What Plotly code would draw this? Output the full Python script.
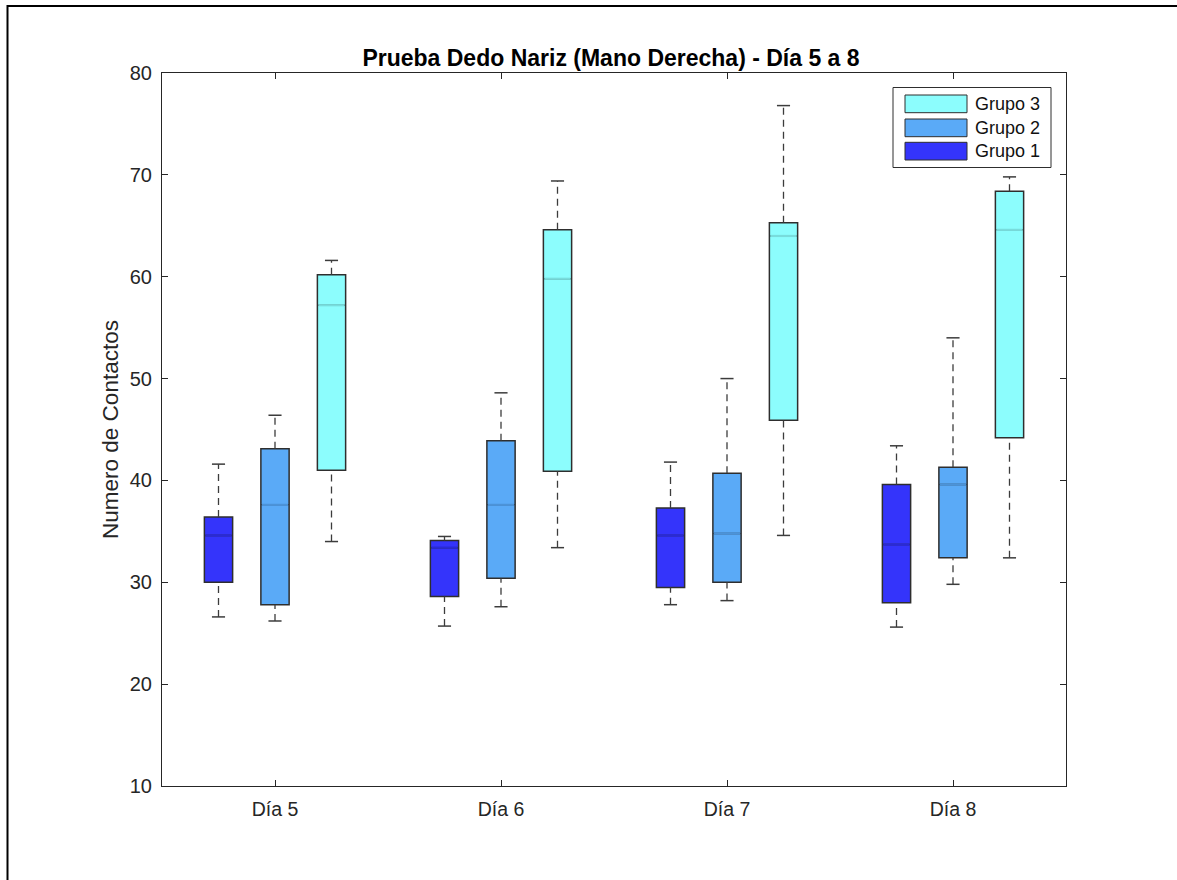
import plotly.graph_objects as go

days = ["Día 5", "Día 6", "Día 7", "Día 8"]
groups = ["Grupo 1", "Grupo 2", "Grupo 3"]

g1_lo = [26.6, 25.7, 27.8, 25.6]
g1_q1 = [30.0, 28.6, 29.5, 28.0]
g1_med = [34.6, 33.4, 34.6, 33.7]
g1_q3 = [36.4, 34.1, 37.3, 39.6]
g1_hi = [41.6, 34.5, 41.8, 43.4]

g2_lo = [26.2, 27.6, 28.2, 29.8]
g2_q1 = [27.8, 30.4, 30.0, 32.4]
g2_med = [37.6, 37.6, 34.8, 39.6]
g2_q3 = [43.1, 43.9, 40.7, 41.3]
g2_hi = [46.4, 48.6, 50.0, 54.0]

g3_lo = [34.0, 33.4, 34.6, 32.4]
g3_q1 = [41.0, 40.9, 45.9, 44.2]
g3_med = [57.2, 59.8, 64.0, 64.6]
g3_q3 = [60.2, 64.6, 65.3, 68.4]
g3_hi = [61.6, 69.4, 76.8, 69.8]

stats = [
    (g1_lo, g1_q1, g1_med, g1_q3, g1_hi),
    (g2_lo, g2_q1, g2_med, g2_q3, g2_hi),
    (g3_lo, g3_q1, g3_med, g3_q3, g3_hi),
]
fills = ["#3434fb", "#5aaaf7", "#8cfdfd"]
med_colors = ["#2a2ad4", "#4c93d8", "#78dcdc"]
offsets = [-0.25, 0.0, 0.25]
BOXW = 0.125
CAPW = 0.058
OUTLINE = "#2e2e2e"
FONT = "Liberation Sans, Arial, sans-serif"

fig = go.Figure()

for gi, (lo, q1, med, q3, hi) in enumerate(stats):
    xs = [i + 1 + offsets[gi] for i in range(len(days))]
    fig.add_trace(go.Box(
        x=xs, q1=q1, median=med, q3=q3, lowerfence=q1, upperfence=q3,
        width=BOXW, whiskerwidth=0, fillcolor=fills[gi],
        line=dict(color=OUTLINE, width=1.5), boxpoints=False,
        name=groups[gi], showlegend=False, hoverinfo="skip",
    ))
    # dashed whiskers
    wx, wy = [], []
    for x, a, b, c, d in zip(xs, lo, q1, q3, hi):
        wx += [x, x, None, x, x, None]
        wy += [a, b, None, c, d, None]
    fig.add_trace(go.Scatter(x=wx, y=wy, mode="lines", showlegend=False,
                             hoverinfo="skip",
                             line=dict(color="#3c3c3c", width=1.3, dash="7px,5px")))
    # caps
    cx, cy = [], []
    for x, a, d in zip(xs, lo, hi):
        cx += [x - CAPW / 2, x + CAPW / 2, None, x - CAPW / 2, x + CAPW / 2, None]
        cy += [a, a, None, d, d, None]
    fig.add_trace(go.Scatter(x=cx, y=cy, mode="lines", showlegend=False,
                             hoverinfo="skip",
                             line=dict(color="#3c3c3c", width=1.5)))
    # medians
    mx, my = [], []
    for x, m in zip(xs, med):
        mx += [x - BOXW / 2 + 0.004, x + BOXW / 2 - 0.004, None]
        my += [m, m, None]
    fig.add_trace(go.Scatter(x=mx, y=my, mode="lines", showlegend=False,
                             hoverinfo="skip",
                             line=dict(color=med_colors[gi], width=2.2)))

W, H = 1177, 880
L, R, T, B = 162, 111, 73, 94
pw, ph = W - L - R, H - T - B


def px(x):
    return (x - L) / pw


def py(y):
    return (H - B - y) / ph


shapes = []
# outer frame (top and left edges visible), kept inside the canvas
shapes.append(dict(type="line", xref="paper", yref="paper",
                   x0=px(7), x1=px(W), y0=py(6), y1=py(6),
                   line=dict(color="black", width=2)))
shapes.append(dict(type="line", xref="paper", yref="paper",
                   x0=px(7.5), x1=px(7.5), y0=py(5), y1=py(H),
                   line=dict(color="black", width=2)))
# legend box
shapes.append(dict(type="rect", xref="paper", yref="paper",
                   x0=px(893), x1=px(1051), y0=py(87.5), y1=py(167.5),
                   line=dict(color="#2e2e2e", width=1), fillcolor="white"))
annotations = []
legend_rows = [(2, 95, 112.7, 104), (1, 119, 136.7, 128), (0, 142.3, 160, 151.5)]
for gi, ytop, ybot, yc in legend_rows:
    shapes.append(dict(type="rect", xref="paper", yref="paper",
                       x0=px(905), x1=px(967), y0=py(ytop), y1=py(ybot),
                       line=dict(color="#2e2e2e", width=1), fillcolor=fills[gi]))
    annotations.append(dict(text=groups[gi], xref="paper", yref="paper",
                            x=px(973), y=py(yc), xanchor="left", yanchor="middle",
                            showarrow=False,
                            font=dict(family=FONT, size=18, color="#111111")))

fig.update_layout(
    width=W, height=H,
    margin=dict(l=L, r=R, t=T, b=B),
    paper_bgcolor="white", plot_bgcolor="white",
    boxmode="overlay",
    title=dict(text="<b>Prueba Dedo Nariz (Mano Derecha) - Día 5 a 8</b>",
               xref="paper", x=px(611), xanchor="center",
               yref="container", y=1 - 58 / H, yanchor="middle",
               font=dict(family=FONT, size=23, color="black")),
    shapes=shapes, annotations=annotations,
    showlegend=False,
)
fig.update_xaxes(
    range=[0.5, 4.5], tickvals=[1, 2, 3, 4], ticktext=days,
    showline=True, linecolor="#262626", linewidth=1, mirror="ticks",
    ticks="inside", ticklen=6, tickcolor="#262626", showgrid=False, zeroline=False,
    ticklabelstandoff=6,
    tickfont=dict(family=FONT, size=19.5, color="#262626"),
)
fig.update_yaxes(
    range=[10, 80], tickvals=[10, 20, 30, 40, 50, 60, 70, 80],
    showline=True, linecolor="#262626", linewidth=1, mirror="ticks",
    ticks="inside", ticklen=6, tickcolor="#262626", showgrid=False, zeroline=False,
    ticklabelstandoff=5,
    tickfont=dict(family=FONT, size=20, color="#262626"),
    title=dict(text="Numero de Contactos", standoff=4,
               font=dict(family=FONT, size=22.5, color="#262626")),
)

fig.write_html(
    "out.html",
    config={"displayModeBar": False},
    post_script="document.documentElement.style.overflow='hidden';"
                "document.body.style.overflow='hidden';document.body.style.margin='0';",
)
